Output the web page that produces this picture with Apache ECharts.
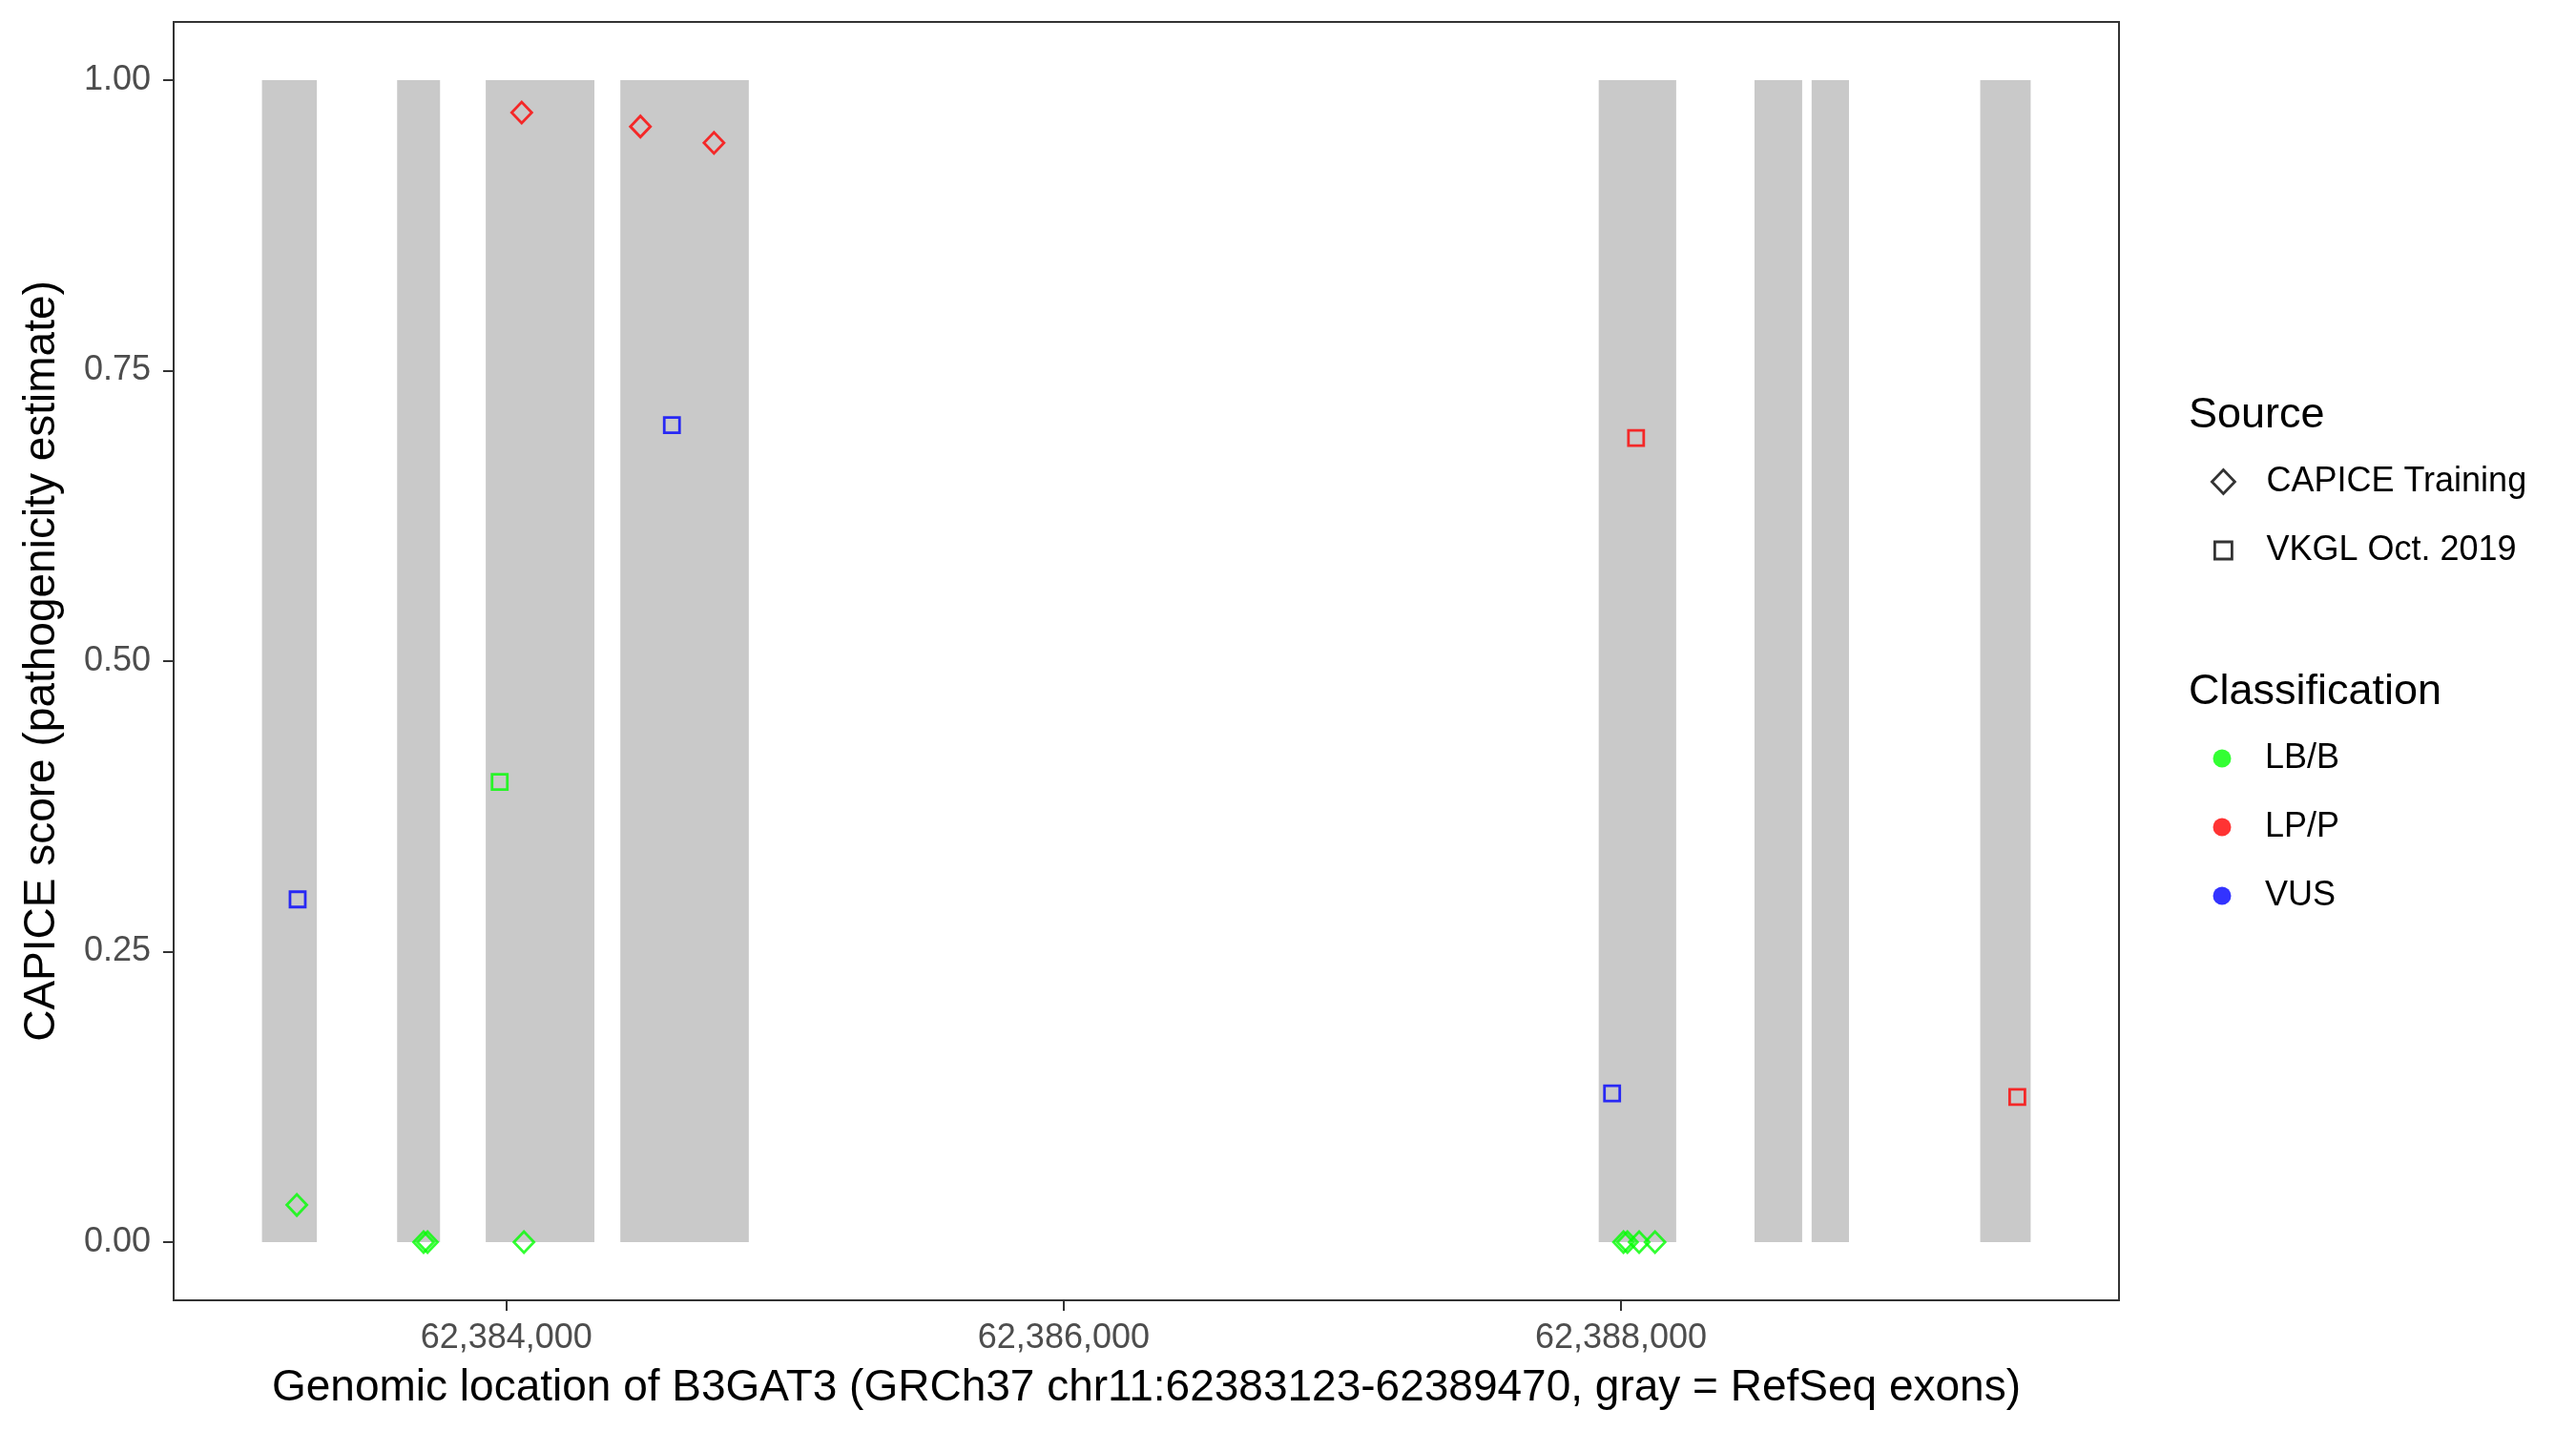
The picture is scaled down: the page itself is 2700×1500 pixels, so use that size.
<!DOCTYPE html>
<html>
<head>
<meta charset="utf-8">
<script src="https://cdn.jsdelivr.net/npm/echarts@6/dist/echarts.min.js"></script>
<style>
  html, body { margin: 0; padding: 0; background: #fff; }
  #chart { width: 2700px; height: 1500px; }
</style>
</head>
<body>
<div id="chart"></div>
<script>
  // RefSeq exons of B3GAT3 (gray bands)
  const exonStart = [62383123, 62383608, 62383926, 62384409, 62387920, 62388479, 62388684, 62389289]
  const exonEnd = [62383320, 62383762, 62384316, 62384870, 62388198, 62388650, 62388818, 62389470]

  // CAPICE training variants (diamonds)
  const capicePos = [62383248, 62383703, 62383717, 62384063, 62384055, 62384481, 62384745, 62388009, 62388023, 62388065, 62388122]
  const capiceScore = [0.032, 0.0, 0.0, 0.0, 0.972, 0.960, 0.946, 0.0, 0.0, 0.0, 0.0]
  const capiceClass = ['LB/B', 'LB/B', 'LB/B', 'LB/B', 'LP/P', 'LP/P', 'LP/P', 'LB/B', 'LB/B', 'LB/B', 'LB/B']

  // VKGL Oct. 2019 variants (squares)
  const vkglPos = [62383251, 62383976, 62384594, 62387968, 62388054, 62389422]
  const vkglScore = [0.295, 0.396, 0.703, 0.128, 0.692, 0.125]
  const vkglClass = ['VUS', 'LB/B', 'VUS', 'VUS', 'LP/P', 'LP/P']

  const classNames = ['LB/B', 'LP/P', 'VUS']
  const classColors = { 'LB/B': '#00ff00', 'LP/P': '#ff0000', 'VUS': '#0000ff' }
  const xTicks = [62384000, 62386000, 62388000]
  const yTicks = [0, 0.25, 0.5, 0.75, 1]

  const font = 'Liberation Sans, Arial, Helvetica, sans-serif'

  const pointData = (pos, score, cls) => pos.map((p, i) => ({
    value: [p, score[i]],
    itemStyle: { color: 'transparent', borderColor: classColors[cls[i]], borderWidth: 2.8 }
  }))

  const diamondIcon = 'path://M0,0 M26,26 M13,0.5 L25,13 L13,25.5 L1,13 Z'
  const squareIcon = 'path://M0,0 M26,26 M4,4 L22,4 L22,22 L4,22 Z'

  const chart = echarts.init(document.getElementById('chart'), null, { renderer: 'canvas' })

  const option = {
    backgroundColor: '#fff',
    animation: false,
    textStyle: { fontFamily: font },
    title: [
      { text: 'Source', left: 2294, top: 413, padding: 0, textStyle: { fontSize: 45, fontWeight: 'normal', color: '#000', fontFamily: font } },
      { text: 'Classification', left: 2294, top: 703, padding: 0, textStyle: { fontSize: 45, fontWeight: 'normal', color: '#000', fontFamily: font } }
    ],
    legend: [
      {
        orient: 'vertical', left: 2316, top: 487, padding: 0,
        itemWidth: 26, itemHeight: 26, itemGap: 36, selectedMode: false,
        textStyle: { fontSize: 36, color: '#000', fontFamily: font, padding: [0, 0, 0, 27] },
        data: [
          { name: 'CAPICE Training', icon: diamondIcon, itemStyle: { color: 'transparent', borderColor: '#000', borderWidth: 2.8 } },
          { name: 'VKGL Oct. 2019', icon: squareIcon, itemStyle: { color: 'transparent', borderColor: '#000', borderWidth: 2.8 } }
        ]
      },
      {
        orient: 'vertical', left: 2319.5, top: 777, padding: 0,
        itemWidth: 19, itemHeight: 19, itemGap: 36, selectedMode: false,
        textStyle: { fontSize: 36, color: '#000', fontFamily: font, padding: [0, 0, 0, 30.5] },
        data: classNames.map(c => ({ name: c, icon: 'circle', itemStyle: { color: classColors[c], borderWidth: 0 } }))
      }
    ],
    grid: {
      left: 182, top: 23, width: 2039, height: 1340,
      show: true, borderColor: '#333', borderWidth: 2, backgroundColor: '#fff'
    },
    xAxis: {
      type: 'value',
      min: 62382806,
      max: 62389787,
      name: 'Genomic location of B3GAT3 (GRCh37 chr11:62383123-62389470, gray = RefSeq exons)',
      nameLocation: 'middle',
      nameGap: 69,
      nameTextStyle: { fontSize: 46, color: '#000', fontFamily: font },
      axisLine: { show: false, onZero: false },
      splitLine: { show: false },
      axisTick: { show: true, inside: false, length: 11, customValues: xTicks, lineStyle: { color: '#333', width: 2 } },
      axisLabel: {
        customValues: xTicks, margin: 22, fontSize: 36, color: '#4d4d4d', fontFamily: font,
        formatter: v => Number(v).toLocaleString('en-US')
      }
    },
    yAxis: {
      type: 'value',
      min: -0.05,
      max: 1.05,
      name: 'CAPICE score (pathogenicity estimate)',
      nameLocation: 'middle',
      nameGap: 115,
      nameTextStyle: { fontSize: 46, color: '#000', fontFamily: font },
      axisLine: { show: false, onZero: false },
      splitLine: { show: false },
      axisTick: { show: true, inside: false, length: 11, customValues: yTicks, lineStyle: { color: '#333', width: 2 } },
      axisLabel: {
        customValues: yTicks, margin: 24, fontSize: 36, color: '#4d4d4d', fontFamily: font,
        formatter: v => Number(v).toFixed(2)
      }
    },
    series: [
      {
        name: 'exons',
        type: 'custom',
        z: 1,
        silent: true,
        data: exonStart.map((s, i) => [s, exonEnd[i]]),
        encode: { x: [0, 1] },
        renderItem: (params, api) => {
          const p0 = api.coord([api.value(0), 1])
          const p1 = api.coord([api.value(1), 0])
          return {
            type: 'rect',
            shape: { x: p0[0], y: p0[1], width: p1[0] - p0[0], height: p1[1] - p0[1] },
            style: { fill: '#c9c9c9' }
          }
        }
      },
      {
        name: 'CAPICE Training',
        type: 'scatter',
        z: 3,
        symbol: 'diamond',
        symbolSize: [21, 22],
        data: pointData(capicePos, capiceScore, capiceClass)
      },
      {
        name: 'VKGL Oct. 2019',
        type: 'scatter',
        z: 3,
        symbol: 'rect',
        symbolSize: 16,
        data: pointData(vkglPos, vkglScore, vkglClass)
      }
    ].concat(classNames.map(c => ({
      name: c, type: 'scatter', data: [], itemStyle: { color: classColors[c] }
    })))
  }

  chart.setOption(option)
</script>
</body>
</html>
